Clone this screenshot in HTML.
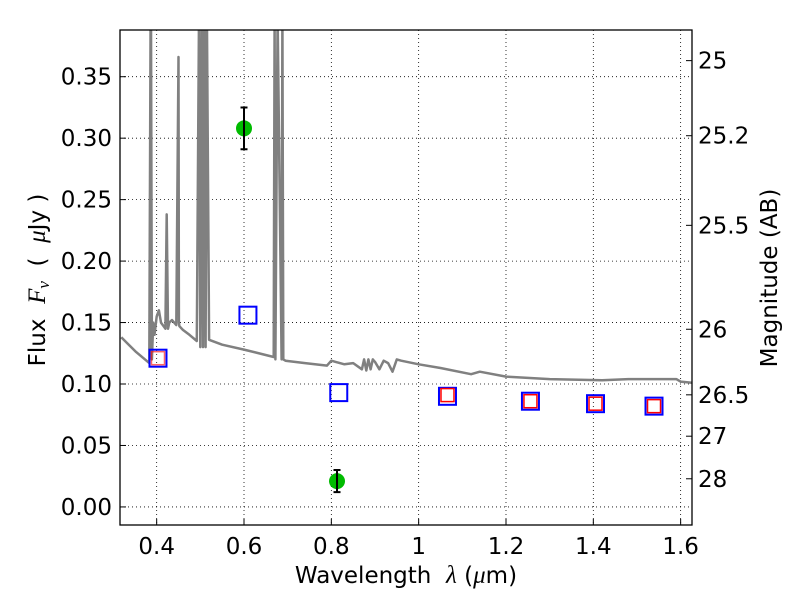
<!DOCTYPE html>
<html><head><meta charset="utf-8">
<style>
html,body{margin:0;padding:0;background:#fff;}
svg{display:block;font-family:"DejaVu Sans","Liberation Sans",sans-serif;}
.pre{white-space:pre;}
</style></head>
<body>
<svg id="chart" width="800" height="600" viewBox="0 0 800 600" xmlns="http://www.w3.org/2000/svg">
<defs><clipPath id="clip"><rect x="120" y="30" width="572" height="495"/></clipPath></defs>
<rect x="0" y="0" width="800" height="600" fill="#fff"/>
<g id="grid"></g>
<g id="plot" clip-path="url(#clip)"></g>
<rect x="120" y="30" width="572" height="495" fill="none" stroke="#000" stroke-width="1.3"/>
<g id="axes"></g>
<text class="pre" x="406" y="583" font-size="23" text-anchor="middle">Wavelength  <tspan font-style="italic" font-family="Liberation Serif,serif" font-size="25">λ</tspan> (<tspan font-style="italic" font-family="Liberation Serif,serif" font-size="25">μ</tspan>m)</text>
<text class="pre" transform="translate(45,280) rotate(-90)" font-size="23" text-anchor="middle">Flux  <tspan font-style="italic" font-family="Liberation Serif,serif" font-size="25">F<tspan font-size="17" dy="4">ν</tspan></tspan><tspan dy="-4">  (  </tspan><tspan font-style="italic" font-family="Liberation Serif,serif" font-size="25">μ</tspan>Jy )</text>
<text transform="translate(777,278) rotate(-90)" font-size="23" text-anchor="middle">Magnitude (AB)</text>
</svg>
<script>
const xTicks = [0.4,0.6,0.8,1.0,1.2,1.4,1.6];
const xTickLabels = ["0.4","0.6","0.8","1","1.2","1.4","1.6"];
const yTicks = [0,0.05,0.10,0.15,0.20,0.25,0.30,0.35];
const yTickLabels = ["0.00","0.05","0.10","0.15","0.20","0.25","0.30","0.35"];
const magTicks = [25,25.2,25.5,26,26.5,27,28];
const magTickLabels = ["25","25.2","25.5","26","26.5","27","28"];
const specWave = [0.319,0.353,0.383,0.386,0.387,0.389,0.392,0.395,0.40,0.405,0.41,0.42,0.423,0.426,0.429,0.435,0.445,0.450,0.451,0.452,0.46,0.475,0.492,0.497,0.50,0.503,0.506,0.509,0.512,0.515,0.52,0.55,0.60,0.645,0.668,0.670,0.672,0.677,0.686,0.688,0.690,0.695,0.74,0.79,0.80,0.81,0.83,0.85,0.87,0.875,0.88,0.885,0.89,0.895,0.90,0.91,0.92,0.93,0.94,0.95,0.96,1.0,1.05,1.12,1.14,1.2,1.3,1.42,1.48,1.59,1.60,1.626];
const specFlux = [0.138,0.126,0.117,0.40,0.40,0.12,0.15,0.14,0.155,0.16,0.15,0.145,0.238,0.145,0.15,0.152,0.148,0.366,0.15,0.147,0.144,0.140,0.135,0.40,0.13,0.40,0.13,0.40,0.13,0.40,0.136,0.132,0.128,0.124,0.122,0.40,0.12,0.40,0.12,0.40,0.12,0.119,0.117,0.115,0.119,0.118,0.116,0.117,0.112,0.12,0.111,0.12,0.112,0.12,0.118,0.112,0.119,0.117,0.11,0.12,0.119,0.116,0.113,0.108,0.11,0.106,0.104,0.103,0.104,0.104,0.102,0.101];
const detWave = [0.600,0.813];
const detFlux = [0.308,0.021];
const detErr = [0.017,0.009];
const blueWave = [0.403,0.609,0.817,1.066,1.256,1.405,1.539];
const blueFlux = [0.121,0.156,0.093,0.090,0.086,0.084,0.082];
const redWave = [0.403,1.066,1.256,1.405,1.539];
const redFlux = [0.121,0.091,0.086,0.084,0.082];

const NS="http://www.w3.org/2000/svg";
const X0=120,X1=692,Y0=30,Y1=525;
const xMin=0.316,xMax=1.626,yMin=-0.0147,yMax=0.388;
function sx(v){return X0+(v-xMin)/(xMax-xMin)*(X1-X0);}
function sy(v){return Y1-(v-yMin)/(yMax-yMin)*(Y1-Y0);}
function magToFlux(m){return Math.pow(10,(23.9-m)/2.5);}
function mk(tag,attrs,parent){const e=document.createElementNS(NS,tag);for(const k in attrs)e.setAttribute(k,attrs[k]);parent.appendChild(e);return e;}
const grid=document.getElementById('grid'),plot=document.getElementById('plot'),axes=document.getElementById('axes');

xTicks.forEach((t,i)=>{
  const x=sx(t);
  const g=mk('line',{x1:x,x2:x,y1:Y0,y2:Y1,stroke:'#000','stroke-width':0.8,'stroke-dasharray':'1,3'},grid);
  
  
  const tk=mk('line',{x1:x,x2:x,y1:Y1,y2:Y1-6,stroke:'#000'},axes);
  
  
  const tx=mk('text',{x:x,y:Y1+29,'font-size':23,'text-anchor':'middle'},axes);
  tx.textContent=xTickLabels[i];
  
  
});
yTicks.forEach((t,i)=>{
  const y=sy(t);
  const g=mk('line',{x1:X0,x2:X1,y1:y,y2:y,stroke:'#000','stroke-width':0.8,'stroke-dasharray':'1,3'},grid);
  
  
  const tk=mk('line',{x1:X0,x2:X0+6,y1:y,y2:y,stroke:'#000'},axes);
  
  
  const tx=mk('text',{x:X0-8,y:y+8,'font-size':23,'text-anchor':'end'},axes);
  tx.textContent=yTickLabels[i];
  
  
});
magTicks.forEach((m,i)=>{
  const y=sy(magToFlux(m));
  const tk=mk('line',{x1:X1,x2:X1-6,y1:y,y2:y,stroke:'#000'},axes);
  
  
  const tx=mk('text',{x:X1+6,y:y+8,'font-size':23,'text-anchor':'start'},axes);
  tx.textContent=magTickLabels[i];
  
  
});

const pts=specWave.map((w,i)=>sx(w).toFixed(1)+','+sy(specFlux[i]).toFixed(1)).join(' ');
const sp=mk('polyline',{points:pts,fill:'none',stroke:'#808080','stroke-width':2.5,'stroke-linejoin':'round'},plot);



blueWave.forEach((w,i)=>{
  const r=mk('rect',{x:sx(w)-8.5,y:sy(blueFlux[i])-8.5,width:17,height:17,fill:'none',stroke:'#0000ff','stroke-width':2},plot);
  
  
});
redWave.forEach((w,i)=>{
  const r=mk('rect',{x:sx(w)-6.5,y:sy(redFlux[i])-6.5,width:13,height:13,fill:'none',stroke:'#ff0000','stroke-width':1.5,'stroke-opacity':i===0?0.6:1},plot);
  
  
});
detWave.forEach((w,i)=>{
  const x=sx(w),y=sy(detFlux[i]);
  const c=mk('circle',{cx:x,cy:y,r:8,fill:'#00bb00'},plot);
  
  
  const yt=sy(detFlux[i]+detErr[i]),yb=sy(detFlux[i]-detErr[i]);
  const e=mk('path',{d:`M${x},${yt}V${yb}M${x-3.5},${yt}H${x+3.5}M${x-3.5},${yb}H${x+3.5}`,stroke:'#000','stroke-width':2,fill:'none'},plot);
  
  
});
</script>
</body></html>
